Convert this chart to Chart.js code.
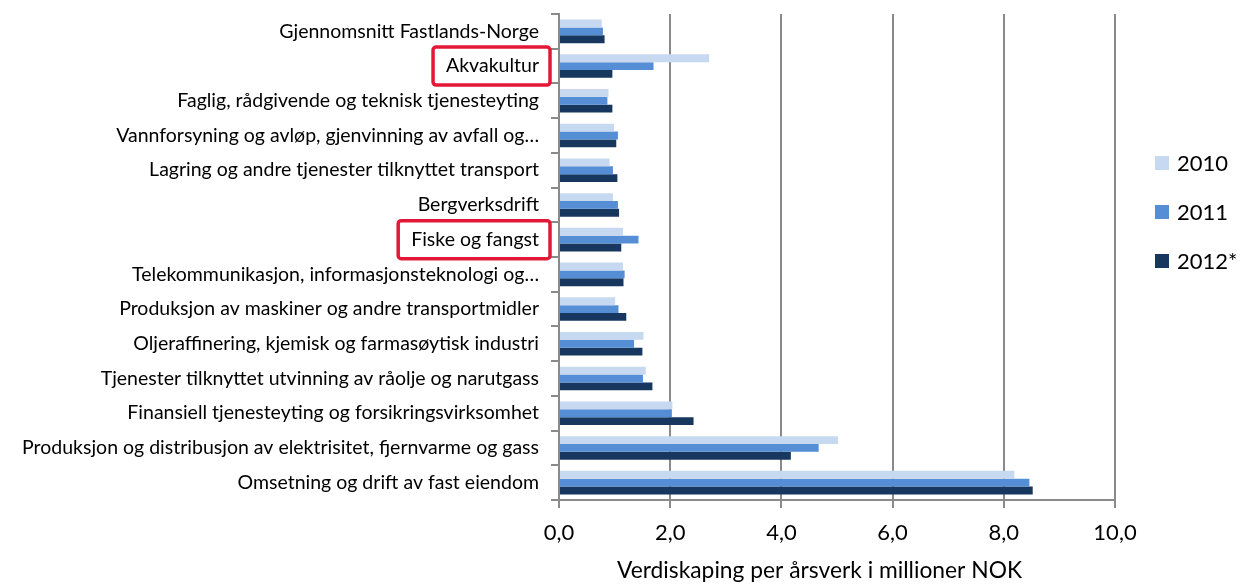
<!DOCTYPE html>
<html>
<head>
<meta charset="utf-8">
<script src="https://cdn.jsdelivr.net/npm/chart.js@4/dist/chart.umd.min.js"></script>
<style>
  html, body { margin: 0; padding: 0; background: #fff; }
  #wrap { width: 1243px; height: 586px; }
</style>
</head>
<body>
<div id="wrap"><canvas id="chart" width="1243" height="586"></canvas></div>
<script>
// Categories, top to bottom
const categories = [
    'Gjennomsnitt Fastlands-Norge',
    'Akvakultur',
    'Faglig, rådgivende og teknisk tjenesteyting',
    'Vannforsyning og avløp, gjenvinning av avfall og…',
    'Lagring og andre tjenester tilknyttet transport',
    'Bergverksdrift',
    'Fiske og fangst',
    'Telekommunikasjon, informasjonsteknologi og…',
    'Produksjon av maskiner og andre transportmidler',
    'Oljeraffinering, kjemisk og farmasøytisk industri',
    'Tjenester tilknyttet utvinning av råolje og narutgass',
    'Finansiell tjenesteyting og forsikringsvirksomhet',
    'Produksjon og distribusjon av elektrisitet, fjernvarme og gass',
    'Omsetning og drift av fast eiendom'
];

// Verdiskaping per årsverk (mill. NOK)
const values2010 = [0.77, 2.70, 0.89, 0.99, 0.91, 0.97, 1.15, 1.15, 1.01, 1.52, 1.56, 2.04, 5.02, 8.19];
const values2011 = [0.79, 1.70, 0.87, 1.06, 0.97, 1.06, 1.43, 1.18, 1.07, 1.35, 1.51, 2.03, 4.67, 8.46];
const values2012 = [0.82, 0.96, 0.96, 1.03, 1.05, 1.08, 1.12, 1.16, 1.21, 1.50, 1.68, 2.42, 4.17, 8.52];

const seriesLabels = ['2010', '2011', '2012*'];
const seriesColors = ['#C6D9F1', '#558ED5', '#17375E'];

// Labels marked with a red frame in the original
const highlighted = ['Akvakultur', 'Fiske og fangst'];

const xTicks = [0, 2, 4, 6, 8, 10];

const labelFont = { family: 'Lato', size: 19.5 };
const gridColor = '#8a8a8a';

// Red frames around the highlighted category labels
const highlightPlugin = {
    id: 'highlightLabels',
    afterDraw(chart) {
        const ctx = chart.ctx;
        const yScale = chart.scales.y;
        const yOpts = yScale.options;
        const labelEnd = yScale.right - yOpts.grid.tickLength - yOpts.ticks.padding;
        ctx.save();
        ctx.font = labelFont.size + 'px ' + labelFont.family;
        ctx.strokeStyle = '#E31837';
        ctx.lineWidth = 3.5;
        highlighted.forEach(name => {
            const idx = categories.indexOf(name);
            const y = yScale.getPixelForValue(idx);
            const w = ctx.measureText(name).width;
            const x0 = labelEnd - w - 13;
            const x1 = labelEnd + 11;
            ctx.beginPath();
            if (ctx.roundRect) ctx.roundRect(x0, y - 19, x1 - x0, 38, 3);
            else ctx.rect(x0, y - 19, x1 - x0, 38);
            ctx.stroke();
        });
        ctx.restore();
    }
};

// Legend at the right, drawn from the datasets
const legendPlugin = {
    id: 'sideLegend',
    afterDraw(chart) {
        const ctx = chart.ctx;
        const left = chart.chartArea.right + 40;
        ctx.save();
        ctx.font = '22px Lato';
        ctx.textBaseline = 'middle';
        ctx.textAlign = 'left';
        chart.data.datasets.forEach((ds, i) => {
            const cy = 163 + i * 49;
            ctx.fillStyle = ds.backgroundColor;
            ctx.fillRect(left, cy - 7, 14, 14);
            ctx.fillStyle = '#000';
            ctx.fillText(ds.label, left + 22, cy + 1);
        });
        ctx.restore();
    }
};

new Chart(document.getElementById('chart').getContext('2d'), {
    type: 'bar',
    data: {
        labels: categories,
        datasets: [values2010, values2011, values2012].map((vals, i) => ({
            label: seriesLabels[i],
            data: vals,
            backgroundColor: seriesColors[i],
            categoryPercentage: 0.68,
            barPercentage: 1.0
        }))
    },
    options: {
        indexAxis: 'y',
        responsive: false,
        animation: false,
        layout: { padding: { top: 14, right: 128, bottom: 0, left: 0 } },
        plugins: {
            legend: { display: false },
            tooltip: { enabled: false }
        },
        scales: {
            x: {
                min: 0,
                max: 10,
                afterBuildTicks: (scale) => { scale.ticks = xTicks.map(v => ({ value: v })); },
                afterFit: (scale) => { scale.height = 86; },
                ticks: {
                    color: '#000',
                    padding: 12,
                    font: { family: 'Lato', size: 22 },
                    callback: (v) => v.toFixed(1).replace('.', ',')
                },
                grid: { color: gridColor, lineWidth: 2, tickLength: 8 },
                border: { color: gridColor, width: 2 },
                title: {
                    display: true,
                    text: 'Verdiskaping per årsverk i millioner NOK      ',
                    color: '#000',
                    font: { family: 'Lato', size: 22.8 },
                    padding: { top: 4, bottom: 2 }
                }
            },
            y: {
                afterFit: (scale) => {
                    scale.width = 559;
                    scale.paddingTop = 0;
                    scale.paddingBottom = 0;
                },
                ticks: {
                    color: '#000',
                    padding: 12,
                    font: labelFont,
                    autoSkip: false
                },
                grid: { drawOnChartArea: false, offset: true, color: gridColor, lineWidth: 2, tickLength: 8 },
                border: { color: gridColor, width: 2 }
            }
        }
    },
    plugins: [highlightPlugin, legendPlugin]
});
</script>
</body>
</html>
